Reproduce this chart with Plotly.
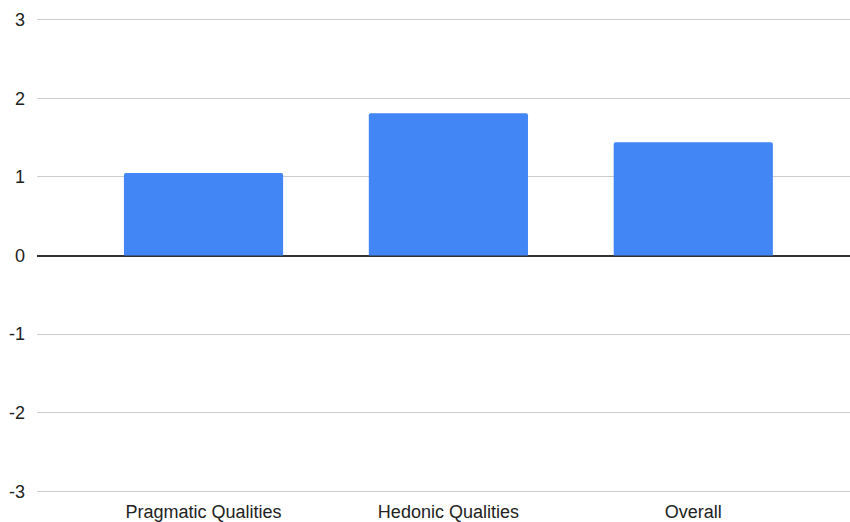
import plotly.graph_objects as go

categories = ["Pragmatic Qualities", "Hedonic Qualities", "Overall"]
values = [1.05, 1.81, 1.44]
y_ticks = [-3, -2, -1, 0, 1, 2, 3]

fig = go.Figure()
fig.add_trace(go.Bar(
    x=[0, 1, 2],
    y=values,
    width=0.65,
    marker=dict(color="#4285F4", line=dict(width=0), cornerradius=2),
    hoverinfo="skip",
))

font_family = "Liberation Sans, Arial, sans-serif"
fig.update_layout(
    width=850, height=522,
    margin=dict(l=37, r=0, t=18, b=29, autoexpand=False),
    paper_bgcolor="white", plot_bgcolor="white",
    showlegend=False,
    font=dict(family=font_family, size=18, color="#222222"),
    xaxis=dict(
        range=[-0.68, 2.64],
        tickmode="array", tickvals=[0, 1, 2], ticktext=categories,
        showgrid=False, zeroline=False, showline=False,
        ticks="", ticklabelstandoff=6,
        tickfont=dict(size=18, color="#222222"),
        fixedrange=True,
    ),
    yaxis=dict(
        range=[-3.02, 3.02],
        tickmode="array", tickvals=y_ticks, ticktext=[str(v) for v in y_ticks],
        showgrid=True, gridcolor="#cccccc", gridwidth=1,
        zeroline=True, zerolinecolor="#333333", zerolinewidth=1.5,
        showline=False, ticks="", ticklabelstandoff=11,
        tickfont=dict(size=18, color="#222222"),
        fixedrange=True,
    ),
)

fig.write_html("out.html")
